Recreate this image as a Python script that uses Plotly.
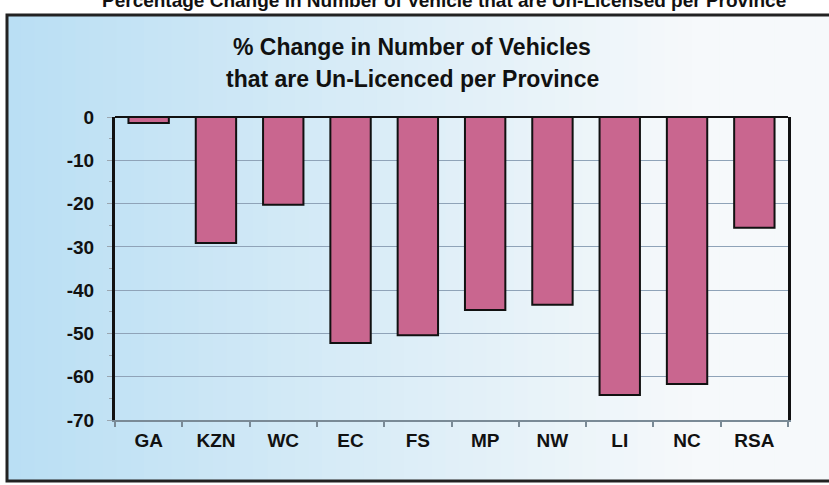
import plotly.graph_objects as go

provinces = ["GA", "KZN", "WC", "EC", "FS", "MP", "NW", "LI", "NC", "RSA"]
pct_change = [-1.4, -29.1, -20.3, -52.2, -50.4, -44.6, -43.4, -64.2, -61.7, -25.6]
y_tick_vals = [0, -10, -20, -30, -40, -50, -60, -70]
y_tick_text = ["0", "-10", "-20", "-30", "-40", "-50", "-60", "-70"]

W, H = 829, 485
L, R, T, B = 115, 41, 117, 65
pw, ph = W - L - R, H - T - B

def px_x(x):
    return (x - L) / pw

def px_y(y):
    return (H - B - y) / ph

FONT = "Liberation Sans, Arial, sans-serif"

fig = go.Figure()
fig.add_trace(go.Bar(
    x=provinces, y=pct_change, width=0.6,
    marker=dict(color="#c9668f", line=dict(color="#111111", width=2)),
    hoverinfo="skip",
))

shapes = []
# background gradient (light blue on left to near white on right)
n = 60
x0p, x1p = 7, 829
for i in range(n):
    t = i / (n - 1)
    tt = min(1.0, t * 1.2)
    r = int(186 + (246 - 186) * tt)
    g = int(223 + (249 - 223) * tt)
    b = int(244 + (251 - 244) * tt)
    xa = x0p + (x1p - x0p) * i / n
    xb = x0p + (x1p - x0p) * (i + 1) / n + 1
    shapes.append(dict(type="rect", xref="paper", yref="paper",
                       x0=px_x(xa), x1=px_x(xb), y0=px_y(482), y1=px_y(16),
                       fillcolor=f"rgb({r},{g},{b})", line=dict(width=0), layer="below"))
# outer frame
shapes.append(dict(type="rect", xref="paper", yref="paper",
                   x0=px_x(7), x1=px_x(840), y0=px_y(481), y1=px_y(15),
                   line=dict(color="#222222", width=3), layer="above"))
# top border of plot area
shapes.append(dict(type="line", xref="paper", yref="paper",
                   x0=0, x1=1, y0=1, y1=1, line=dict(color="#111111", width=2)))

annotations = [
    dict(text="<b>% Change in Number of Vehicles</b>", xref="paper", yref="paper",
         x=px_x(412), y=px_y(47), showarrow=False, xanchor="center", yanchor="middle",
         font=dict(size=23, color="#111111", family=FONT)),
    dict(text="<b>that are Un-Licenced per Province</b>", xref="paper", yref="paper",
         x=px_x(412), y=px_y(79), showarrow=False, xanchor="center", yanchor="middle",
         font=dict(size=23, color="#111111", family=FONT)),
    dict(text="<b>Percentage Change in Number of Vehicle that are Un-Licensed per Province</b>",
         xref="paper", yref="paper", x=px_x(100), y=px_y(0), showarrow=False,
         xanchor="left", yanchor="middle",
         font=dict(size=19, color="#111111", family=FONT)),
]

fig.update_layout(
    width=W, height=H,
    margin=dict(l=L, r=R, t=T, b=B),
    paper_bgcolor="white", plot_bgcolor="rgba(0,0,0,0)",
    showlegend=False, bargap=0.4,
    shapes=shapes, annotations=annotations,
    font=dict(family=FONT, color="#111111"),
)
fig.update_xaxes(
    type="category", showgrid=False, showline=True, linecolor="#7a8a96", linewidth=2,
    ticks="outside", tickson="boundaries", ticklen=5, tickcolor="#7a8a96", tickwidth=2,
    tickfont=dict(size=19, weight="bold", color="#111111"), ticklabelstandoff=2,
)
fig.update_yaxes(
    range=[-70, 0], tickvals=y_tick_vals, ticktext=y_tick_text,
    showgrid=True, gridcolor="#8fa3b8", gridwidth=1,
    showline=True, linecolor="#111111", linewidth=3, mirror=True,
    ticks="outside", ticklen=5, tickcolor="#9aa6b0",
    minor=dict(ticks="outside", ticklen=3, dtick=5, tickcolor="#9aa6b0", showgrid=False),
    tickfont=dict(size=19, weight="bold", color="#111111"), ticklabelstandoff=9,
    zeroline=False,
)
fig.write_html("out.html", config={"displayModeBar": False},
               post_script="document.body.style.margin='0';")
